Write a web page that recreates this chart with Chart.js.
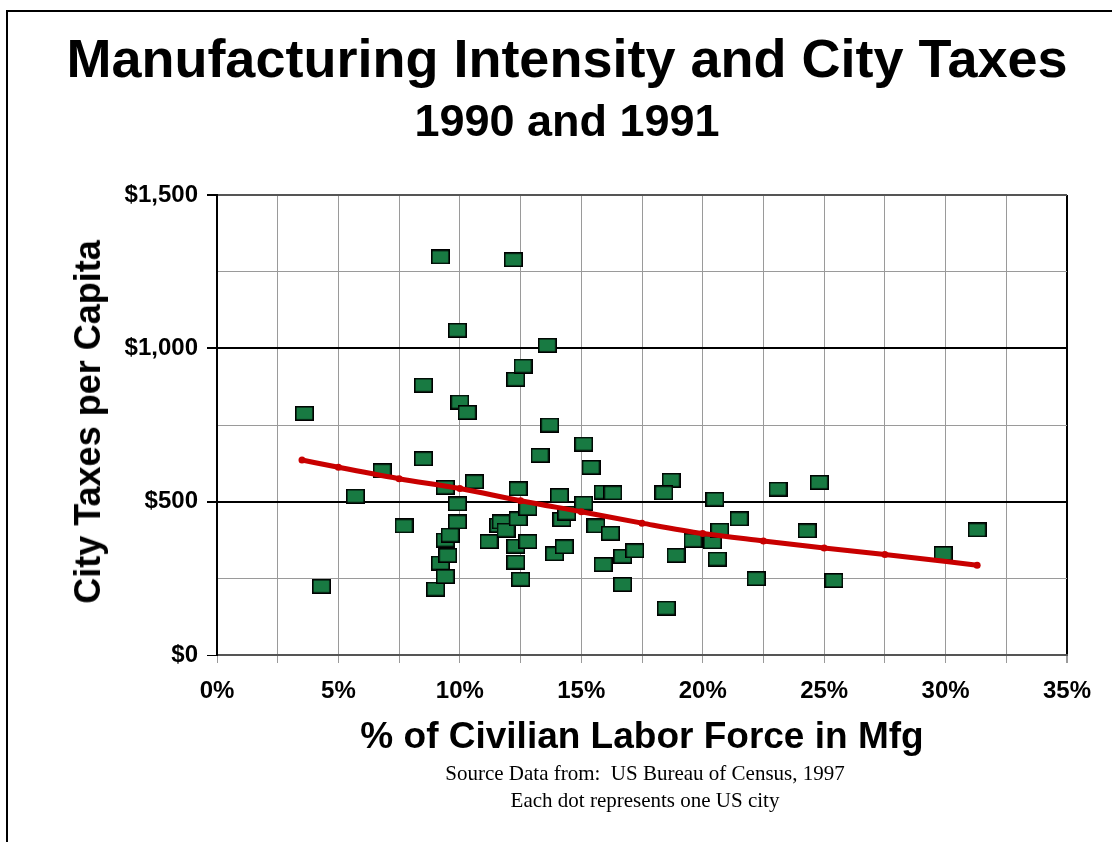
<!DOCTYPE html>
<html>
<head>
<meta charset="utf-8">
<title>Manufacturing Intensity and City Taxes</title>
<script src="https://cdn.jsdelivr.net/npm/chart.js@4.4.1/dist/chart.umd.min.js"></script>
<style>
  html, body { margin: 0; padding: 0; background: #fff; }
  #wrap { position: relative; width: 1112px; height: 842px; overflow: hidden; }
  #frame { position: absolute; left: 6px; top: 10px; width: 1200px; height: 900px; border: 2px solid #000; }
  #chart { position: absolute; left: 0; top: 0; }
  .bold { position: absolute; font-family: "Liberation Sans", Arial, sans-serif; font-weight: bold; color: #000; white-space: nowrap; text-align: center; }
  .note { position: absolute; font-family: "Liberation Serif", "Times New Roman", serif; color: #000; white-space: nowrap; text-align: center; }
  #title { left: 11px; width: 1112px; top: 28px; font-size: 54px; line-height: 60px; }
  #subtitle { left: 11px; width: 1112px; top: 96px; font-size: 45px; line-height: 50px; }
  #ytitle { left: 88px; top: 422px; font-size: 36px; transform: translate(-50%, -50%) rotate(-90deg); }
  #xtitle { left: 642px; top: 736px; font-size: 37px; transform: translate(-50%, -50%); }
  #src1 { left: 645px; top: 773px; font-size: 21px; transform: translate(-50%, -50%); }
  #src2 { left: 645px; top: 800px; font-size: 21px; transform: translate(-50%, -50%); }
</style>
</head>
<body>
<div id="wrap">
  <div id="frame"></div>
  <canvas id="chart" width="1112" height="842"></canvas>
  <div class="bold" id="title">Manufacturing Intensity and City Taxes</div>
  <div class="bold" id="subtitle">1990 and 1991</div>
  <div class="bold" id="ytitle">City Taxes per Capita</div>
  <div class="bold" id="xtitle">% of Civilian Labor Force in Mfg</div>
  <div class="note" id="src1">Source Data from:&nbsp; US Bureau of Census, 1997</div>
  <div class="note" id="src2">Each dot represents one US city</div>
</div>
<script>
// ================= DATA =================
// one entry per city: % of labor force in manufacturing, taxes per capita ($)
const mfgPct = [
    3.6, 4.3, 5.7, 6.8, 7.7, 8.5, 8.5, 9.0, 9.2, 9.2,
    9.4, 9.5, 9.4, 9.6, 9.4, 9.9, 9.9, 9.9, 10.0, 10.3,
    10.6, 11.2, 11.6, 11.7, 11.9, 12.2, 12.3, 12.6, 12.3, 12.3,
    12.4, 12.4, 12.5, 12.8, 12.8, 13.3, 13.6, 13.7, 13.9, 14.1,
    14.3, 14.2, 14.4, 15.1, 15.4, 15.1, 15.6, 15.9, 16.3, 16.2,
    15.9, 16.7, 17.2, 16.7, 18.5, 18.7, 18.4, 18.9, 19.6, 20.4,
    20.5, 20.7, 20.6, 21.5, 22.2, 23.1, 24.3, 24.8, 25.4, 29.9,
    31.3
];
const taxPerCapita = [
    788, 224, 518, 601, 421, 640, 880, 215, 1298, 300,
    256, 325, 375, 391, 547, 434, 493, 1059, 825, 791,
    565, 370, 423, 434, 407, 1289, 899, 942, 303, 355,
    444, 542, 247, 478, 370, 651, 1010, 750, 330, 520,
    353, 442, 463, 688, 612, 495, 421, 531, 529, 397,
    295, 322, 340, 230, 153, 570, 529, 325, 374, 369,
    508, 407, 313, 444, 249, 541, 405, 563, 243, 331,
    408
];

// fitted trend curve, read at a few points along its length
const trendPct = [3.5, 5, 7.5, 10, 12.5, 15, 17.5, 20, 22.5, 25, 27.5, 31.3];
const trendTax = [636, 612, 575, 543, 503, 467, 430, 396, 372, 349, 328, 293];

// axis ticks
const xMax = 35;
const xStep = 2.5;
const yMax = 1500;
const yStep = 250;

// ================= MARKER =================
function makeBox() {
    const c = document.createElement("canvas");
    c.width = 19;
    c.height = 15;
    const g = c.getContext("2d");
    g.fillStyle = "#187a42";
    g.fillRect(0, 0, 19, 15);
    g.strokeStyle = "#000";
    g.lineWidth = 1.6;
    g.strokeRect(0.8, 0.8, 17.4, 13.4);
    return c;
}

const cityPoints = mfgPct.map((x, i) => ({ x: x, y: taxPerCapita[i] }));
const trendPoints = trendPct.map((x, i) => ({ x: x, y: trendTax[i] }));

const tickFont = { family: "Liberation Sans", weight: "bold", size: 24 };

// ================= CHART =================
new Chart(document.getElementById("chart"), {
    type: "scatter",
    data: {
        datasets: [
            {
                // trend line first so it is painted on top of the boxes
                data: trendPoints,
                showLine: true,
                borderColor: "#c80000",
                borderWidth: 5,
                cubicInterpolationMode: "monotone",
                pointRadius: 3.5,
                pointBackgroundColor: "#c80000",
                pointBorderWidth: 0
            },
            {
                data: cityPoints,
                pointStyle: makeBox(),
                pointRadius: 9
            }
        ]
    },
    options: {
        responsive: false,
        animation: false,
        layout: { padding: { top: 195, right: 45, bottom: 0, left: 0 } },
        plugins: {
            legend: { display: false },
            tooltip: { enabled: false }
        },
        scales: {
            x: {
                type: "linear",
                min: 0,
                max: xMax,
                afterFit: s => { s.height = 187; },
                border: { color: "#555", width: 2 },
                grid: {
                    color: c => c.tick && c.tick.value === xMax ? "#000" : "#9a9a9a",
                    lineWidth: c => c.tick && c.tick.value === xMax ? 2 : 1,
                    tickLength: 8,
                    tickColor: "#9a9a9a"
                },
                ticks: {
                    stepSize: xStep,
                    autoSkip: false,
                    maxRotation: 0,
                    padding: 14,
                    color: "#000",
                    font: tickFont,
                    callback: v => v % 5 === 0 ? v + "%" : ""
                }
            },
            y: {
                min: 0,
                max: yMax,
                afterFit: s => { s.width = 217; },
                border: { color: "#000", width: 2 },
                grid: {
                    color: c => {
                        const v = c.tick ? c.tick.value : 0;
                        if (v === 500 || v === 1000) return "#000";
                        if (v === yMax) return "#555";
                        return "#9a9a9a";
                    },
                    lineWidth: c => {
                        const v = c.tick ? c.tick.value : 0;
                        return (v === 500 || v === 1000 || v === yMax) ? 2 : 1;
                    },
                    tickLength: 10,
                    tickColor: c => c.tick && c.tick.value % 500 === 0 ? "#000" : "rgba(0,0,0,0)"
                },
                ticks: {
                    stepSize: yStep,
                    autoSkip: false,
                    padding: 9,
                    color: "#000",
                    font: tickFont,
                    callback: v => v % 500 === 0 ? "$" + v.toLocaleString("en-US") : ""
                }
            }
        }
    }
});
</script>
</body>
</html>
